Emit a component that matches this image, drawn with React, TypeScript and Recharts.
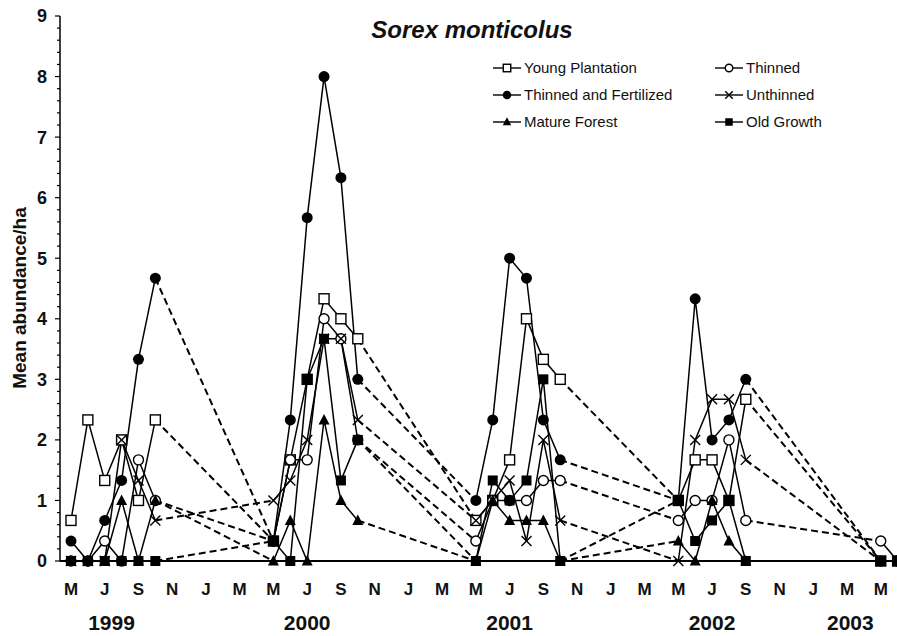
import React from 'react'
import { LineChart, Line, XAxis, YAxis } from 'recharts'

// month index: 0 = May 1999
const MONTH_TICKS = [0, 2, 4, 6, 8, 10, 12, 14, 16, 18, 20, 22, 24, 26, 28, 30, 32, 34, 36, 38, 40, 42, 44, 46, 48]
const MONTH_LABELS = [
  'M', 'J', 'S', 'N', 'J', 'M',
  'M', 'J', 'S', 'N', 'J', 'M',
  'M', 'J', 'S', 'N', 'J', 'M',
  'M', 'J', 'S', 'N', 'J', 'M',
  'M',
]
const YEARS = ['1999', '2000', '2001', '2002', '2003']
const YEAR_POS = [2.4, 14, 26, 38, 46.2]
const Y_LABELS = [0, 1, 2, 3, 4, 5, 6, 7, 8, 9]

// sampling months per season
const SAMPLE_MONTHS = [
  [0, 1, 2, 3, 4, 5],
  [12, 13, 14, 15, 16, 17],
  [24, 25, 26, 27, 28, 29],
  [36, 37, 38, 39, 40],
  [48, 49],
]

const youngPlantation = [
  [0.67, 2.33, 1.33, 2, 1, 2.33],
  [0.33, 1.67, 3, 4.33, 4, 3.67],
  [0.67, 1, 1.67, 4, 3.33, 3],
  [1, 1.67, 1.67, 1, 2.67],
  [0, 0],
]
const thinned = [
  [0, 0, 0.33, 0, 1.67, 1],
  [0.33, 1.67, 1.67, 4, 3.67, 2],
  [0.33, 1, 1, 1, 1.33, 1.33],
  [0.67, 1, 1, 2, 0.67],
  [0.33, 0],
]
const thinnedFertilized = [
  [0.33, 0, 0.67, 1.33, 3.33, 4.67],
  [0.33, 2.33, 5.67, 8, 6.33, 3],
  [1, 2.33, 5, 4.67, 2.33, 1.67],
  [1, 4.33, 2, 2.33, 3],
  [0, 0],
]
const unthinned = [
  [0, 0, 0, 2, 1.33, 0.67],
  [1, 1.33, 2, 3.67, 3.67, 2.33],
  [0.67, 1, 1.33, 0.33, 2, 0.67],
  [0, 2, 2.67, 2.67, 1.67],
  [0, 0],
]
const matureForest = [
  [0, 0, 0, 1, 0, 1],
  [0, 0.67, 0, 2.33, 1, 0.67],
  [0, 1, 0.67, 0.67, 0.67, 0],
  [0.33, 0, 1, 0.33, 0],
  [0, 0],
]
const oldGrowth = [
  [0, 0, 0, 0, 0, 0],
  [0.33, 0, 3, 3.67, 1.33, 2],
  [0, 1.33, 1, 1.33, 3, 0],
  [1, 0.33, 0.67, 1, 0],
  [0, 0],
]

type Kind = 'openSquare' | 'openCircle' | 'dot' | 'cross' | 'triangle' | 'square'

const SERIES: { name: string; kind: Kind; values: number[][] }[] = [
  { name: 'Young Plantation', kind: 'openSquare', values: youngPlantation },
  { name: 'Thinned', kind: 'openCircle', values: thinned },
  { name: 'Thinned and Fertilized', kind: 'dot', values: thinnedFertilized },
  { name: 'Unthinned', kind: 'cross', values: unthinned },
  { name: 'Mature Forest', kind: 'triangle', values: matureForest },
  { name: 'Old Growth', kind: 'square', values: oldGrowth },
]

// within a season: solid, broken between seasons
const solidData = (vals: number[][]) => {
  const out: { m: number; v: number | null }[] = []
  vals.forEach((yr, i) => {
    if (i > 0) out.push({ m: SAMPLE_MONTHS[i][0] - 0.5, v: null })
    yr.forEach((v, j) => out.push({ m: SAMPLE_MONTHS[i][j], v }))
  })
  return out
}

// last sample of a season to first of the next: dashed
const dashData = (vals: number[][]) => {
  const out: { m: number; v: number | null }[] = []
  for (let i = 0; i < vals.length - 1; i++) {
    const ms = SAMPLE_MONTHS[i]
    const a = vals[i]
    out.push({ m: ms[ms.length - 1], v: a[a.length - 1] })
    out.push({ m: SAMPLE_MONTHS[i + 1][0], v: vals[i + 1][0] })
    out.push({ m: SAMPLE_MONTHS[i + 1][0] + 0.2, v: null })
  }
  return out
}

const Marker = ({ kind, cx, cy, s = 1 }: { kind: Kind; cx: number; cy: number; s?: number }) => {
  const h = 5 * s
  switch (kind) {
    case 'openSquare':
      return <rect x={cx - h} y={cy - h} width={2 * h} height={2 * h} fill="#fff" stroke="#000" strokeWidth={1.4} />
    case 'openCircle':
      return <circle cx={cx} cy={cy} r={h} fill="#fff" stroke="#000" strokeWidth={1.4} />
    case 'dot':
      return <circle cx={cx} cy={cy} r={h + 0.5} fill="#000" />
    case 'cross':
      return (
        <g stroke="#000" strokeWidth={1.4}>
          <line x1={cx - h} y1={cy - h} x2={cx + h} y2={cy + h} />
          <line x1={cx - h} y1={cy + h} x2={cx + h} y2={cy - h} />
        </g>
      )
    case 'triangle':
      return <polygon points={`${cx},${cy - h - 1} ${cx - h - 0.5},${cy + h - 0.5} ${cx + h + 0.5},${cy + h - 0.5}`} fill="#000" />
    case 'square':
      return <rect x={cx - h} y={cy - h} width={2 * h} height={2 * h} fill="#000" />
  }
}

const renderDot = (kind: Kind) => (p: any) => {
  if (p.cy == null || p.value == null || p.payload?.v == null) return <g key={`e-${p.index}`} />
  return <Marker key={`d-${p.index}`} kind={kind} cx={p.cx} cy={p.cy} />
}

const YTick = (p: any) => {
  const v = p.payload.value
  const major = Math.abs(v - Math.round(v)) < 1e-6
  return (
    <g>
      <line x1={p.x - (major ? 5 : 3)} y1={p.y} x2={p.x} y2={p.y} stroke="#000" strokeWidth={1.2} />
      {major && (
        <text x={p.x - 13} y={p.y} dy="0.36em" textAnchor="end" fontSize={18} fontWeight="bold" fill="#111">
          {Y_LABELS[Math.round(v)]}
        </text>
      )}
    </g>
  )
}

const minorTicks = Array.from({ length: 46 }, (_, i) => Math.round(i * 0.2 * 1000) / 1000)

const LegendRow = ({ kind, name }: { kind: Kind; name: string }) => (
  <div style={{ display: 'flex', alignItems: 'center', height: 27 }}>
    <svg width={28} height={14} style={{ marginRight: 3 }}>
      <line x1={0} y1={7} x2={28} y2={7} stroke="#000" strokeWidth={1.4} />
      <Marker kind={kind} cx={14} cy={7} s={0.75} />
    </svg>
    <span>{name}</span>
  </div>
)

export default function App() {
  return (
    <div style={{ position: 'absolute', left: 0, top: 0, width: 897, height: 636, overflow: 'hidden', background: '#fff', fontFamily: '"Liberation Sans", Arial, sans-serif' }}>
      <LineChart width={902} height={636} margin={{ top: 16, right: 1, left: 0, bottom: 0 }}>
        <YAxis
          type="number"
          domain={[0, 9]}
          ticks={minorTicks}
          interval={0}
          width={60}
          tickSize={0}
          tickMargin={0}
          tick={<YTick />}
          axisLine={{ stroke: '#000', strokeWidth: 1.5 }}
          tickLine={false}
        />
        <XAxis
          xAxisId="m"
          type="number"
          dataKey="m"
          domain={[-0.652, 49.2]}
          allowDataOverflow
          ticks={MONTH_TICKS}
          interval={0}
          height={40}
          tickSize={0}
          tickMargin={22}
          tickLine={false}
          axisLine={{ stroke: '#000', strokeWidth: 2 }}
          tickFormatter={(v: number) => MONTH_LABELS[Math.round(v / 2)]}
          tick={{ fill: '#111', fontSize: 17, fontWeight: 'bold' }}
        />
        <XAxis
          xAxisId="year"
          type="number"
          dataKey="m"
          domain={[-0.652, 49.2]}
          allowDataOverflow
          ticks={YEAR_POS}
          interval={0}
          height={35}
          tickSize={0}
          tickMargin={14}
          tickLine={false}
          axisLine={false}
          tickFormatter={(v: number) => YEARS[YEAR_POS.indexOf(v)]}
          tick={{ fill: '#111', fontSize: 21, fontWeight: 'bold' }}
        />
        {SERIES.map(s => (
          <Line
            key={`dash-${s.name}`}
            xAxisId="m"
            data={dashData(s.values)}
            dataKey="v"
            stroke="#000"
            strokeWidth={2}
            strokeDasharray="7 4"
            dot={false}
            activeDot={false}
            connectNulls={false}
            isAnimationActive={false}
            type="linear"
          />
        ))}
        {SERIES.map(s => (
          <Line
            key={`solid-${s.name}`}
            xAxisId="m"
            data={solidData(s.values)}
            dataKey="v"
            name={s.name}
            stroke="#000"
            strokeWidth={1.5}
            dot={renderDot(s.kind)}
            activeDot={false}
            connectNulls={false}
            isAnimationActive={false}
            type="linear"
          />
        ))}
      </LineChart>

      <div style={{ position: 'absolute', left: 472, top: 16, transform: 'translateX(-50%)', fontSize: 24, lineHeight: '28px', fontWeight: 'bold', fontStyle: 'italic', color: '#111', whiteSpace: 'nowrap' }}>
        Sorex monticolus
      </div>

      <div style={{ position: 'absolute', left: 20, top: 298, transform: 'translate(-50%, -50%) rotate(-90deg)', fontSize: 19, fontWeight: 'bold', color: '#111', whiteSpace: 'nowrap' }}>
        Mean abundance/ha
      </div>

      <div style={{ position: 'absolute', left: 493, top: 54, display: 'grid', gridTemplateColumns: '222px 160px', fontSize: 15, color: '#111' }}>
        <LegendRow kind="openSquare" name="Young Plantation" />
        <LegendRow kind="openCircle" name="Thinned" />
        <LegendRow kind="dot" name="Thinned and Fertilized" />
        <LegendRow kind="cross" name="Unthinned" />
        <LegendRow kind="triangle" name="Mature Forest" />
        <LegendRow kind="square" name="Old Growth" />
      </div>
    </div>
  )
}
